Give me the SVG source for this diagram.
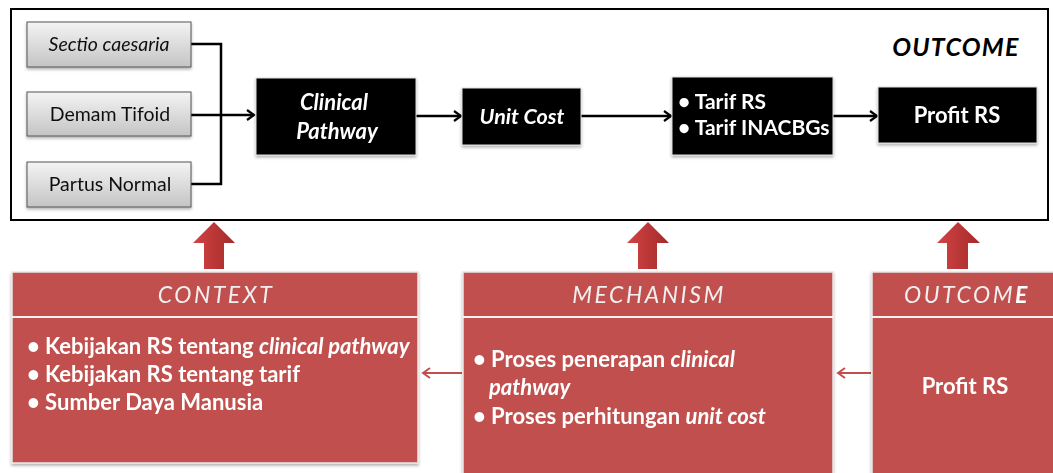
<svg xmlns="http://www.w3.org/2000/svg" width="1053" height="473" viewBox="0 0 1053 473">
<defs>
  <linearGradient id="gray" x1="0" y1="0" x2="0" y2="1">
    <stop offset="0" stop-color="#f4f4f4"/>
    <stop offset="1" stop-color="#c4c4c4"/>
  </linearGradient>
  <linearGradient id="redArrow" x1="0" y1="0" x2="1" y2="0">
    <stop offset="0" stop-color="#d24444"/>
    <stop offset="1" stop-color="#a52a2a"/>
  </linearGradient>
  <filter id="shadow" x="-10%" y="-10%" width="120%" height="130%">
    <feDropShadow dx="0" dy="2" stdDeviation="1.5" flood-color="#000" flood-opacity="0.3"/>
  </filter>
  <marker id="blackArrow" markerWidth="12" markerHeight="12" refX="10" refY="6" orient="auto" markerUnits="userSpaceOnUse">
    <polyline points="3,1 10,6 3,11" fill="none" stroke="#000" stroke-width="2.2"/>
  </marker>
  <marker id="redHead" markerWidth="14" markerHeight="14" refX="10" refY="7" orient="auto" markerUnits="userSpaceOnUse">
    <polyline points="3,2 10,7 3,12" fill="none" stroke="#c0504d" stroke-width="2"/>
  </marker>
</defs>
<style>
  .txt { font-family: Lato, "Open Sans", sans-serif; }
  .gbox { fill: url(#gray); stroke: #555; stroke-width: 1; }
  .bbox { fill: #000; stroke: #ddd; stroke-width: 1; }
  .rbox { fill: #c0504d; stroke: #e8e8e8; stroke-width: 1.5; }
  .wb { fill: #fff; font-weight: bold; }
  .hdr { fill: #f0f0f0; font-style: italic; font-size: 23px; letter-spacing: 2.5px; }
  .body { font-size: 22px; }
  .conn { fill: none; stroke: #000; stroke-width: 2.5; }
  .rconn { fill: none; stroke: #c0504d; stroke-width: 2; }
  .uparrow { fill: url(#redArrow); }
</style>
<rect width="1053" height="473" fill="#fff"/>
<g id="outer-frame">
  <rect x="11" y="9" width="1037" height="211" fill="#fff" stroke="#000" stroke-width="2"/>
  <text class="txt" x="956" y="56" font-size="25" font-weight="bold" font-style="italic" letter-spacing="1.2" text-anchor="middle" fill="#000">OUTCOME</text>
</g>
<g id="connectors">
  <polyline class="conn" points="191,44 221,44 221,184 191,184"/>
  <line class="conn" x1="191" y1="115" x2="254" y2="115" marker-end="url(#blackArrow)"/>
  <line class="conn" x1="416" y1="116" x2="461" y2="116" marker-end="url(#blackArrow)"/>
  <line class="conn" x1="581" y1="116" x2="671" y2="116" marker-end="url(#blackArrow)"/>
  <line class="conn" x1="833" y1="116" x2="877" y2="116" marker-end="url(#blackArrow)"/>
  <polygon class="uparrow" points="214,222 235,243 224,243 224,269 204,269 204,243 193,243"/>
  <polygon class="uparrow" points="648,222 669,243 657,243 657,269 638,269 638,243 627,243"/>
  <polygon class="uparrow" points="958,222 980,243 968,243 968,269 947,269 947,243 937,243"/>
  <line class="rconn" x1="462" y1="373" x2="423" y2="373" marker-end="url(#redHead)"/>
  <line class="rconn" x1="871" y1="373" x2="838" y2="373" marker-end="url(#redHead)"/>
</g>
<g id="node-sectio" filter="url(#shadow)">
  <rect class="gbox" x="27" y="22" width="164" height="45"/>
  <text class="txt" x="109" y="51" font-size="19.5" font-style="italic" text-anchor="middle" fill="#111">Sectio caesaria</text>
</g>
<g id="node-demam" filter="url(#shadow)">
  <rect class="gbox" x="27" y="92" width="164" height="44"/>
  <text class="txt" x="110" y="121" font-size="19.5" text-anchor="middle" fill="#111">Demam Tifoid</text>
</g>
<g id="node-partus" filter="url(#shadow)">
  <rect class="gbox" x="27" y="162" width="164" height="45"/>
  <text class="txt" x="110" y="191" font-size="19.5" text-anchor="middle" fill="#111">Partus Normal</text>
</g>
<g id="node-clinical" filter="url(#shadow)">
  <rect class="bbox" x="256" y="78" width="160" height="77"/>
  <text class="txt wb" x="334" y="110" font-size="22" font-style="italic" text-anchor="middle">Clinical</text>
  <text class="txt wb" x="337" y="139" font-size="22" font-style="italic" text-anchor="middle">Pathway</text>
</g>
<g id="node-unitcost" filter="url(#shadow)">
  <rect class="bbox" x="462" y="88" width="119" height="57"/>
  <text class="txt wb" x="522" y="124" font-size="21.5" font-style="italic" text-anchor="middle">Unit Cost</text>
</g>
<g id="node-tarif" filter="url(#shadow)">
  <rect class="bbox" x="672" y="77" width="161" height="78"/>
  <text class="txt wb" x="678" y="109" font-size="21">• Tarif RS</text>
  <text class="txt wb" x="678" y="135" font-size="21">• Tarif INACBGs</text>
</g>
<g id="node-profit" filter="url(#shadow)">
  <rect class="bbox" x="878" y="87" width="159" height="56"/>
  <text class="txt wb" x="957" y="123" font-size="22" text-anchor="middle">Profit RS</text>
</g>
<g id="node-context" filter="url(#shadow)">
  <rect class="rbox" x="12" y="272" width="406" height="191"/>
  <line x1="12" y1="317" x2="418" y2="317" stroke="#f4f4f4" stroke-width="2"/>
  <text class="txt hdr" x="216" y="303" text-anchor="middle">CONTEXT</text>
  <text class="txt wb body" x="27" y="354">• Kebijakan RS tentang <tspan font-style="italic">clinical pathway</tspan></text>
  <text class="txt wb body" x="27" y="382">• Kebijakan RS tentang tarif</text>
  <text class="txt wb body" x="27" y="410">• Sumber Daya Manusia</text>
</g>
<g id="node-mechanism" filter="url(#shadow)">
  <rect class="rbox" x="463" y="272" width="370" height="205"/>
  <line x1="463" y1="317" x2="833" y2="317" stroke="#f4f4f4" stroke-width="2"/>
  <text class="txt hdr" x="649" y="303" text-anchor="middle">MECHANISM</text>
  <text class="txt wb body" x="473" y="367">• Proses penerapan <tspan font-style="italic">clinical</tspan></text>
  <text class="txt wb body" x="489" y="395" font-style="italic">pathway</text>
  <text class="txt wb body" x="473" y="424">• Proses perhitungan <tspan font-style="italic">unit cost</tspan></text>
</g>
<g id="node-outcome" filter="url(#shadow)">
  <rect class="rbox" x="872" y="272" width="190" height="205"/>
  <line x1="872" y1="317" x2="1053" y2="317" stroke="#f4f4f4" stroke-width="2"/>
  <text class="txt hdr" x="967" y="303" text-anchor="middle">OUTCOM<tspan fill="#fff" font-weight="bold">E</tspan></text>
  <text class="txt wb body" x="965" y="394" text-anchor="middle">Profit RS</text>
</g>
</svg>
